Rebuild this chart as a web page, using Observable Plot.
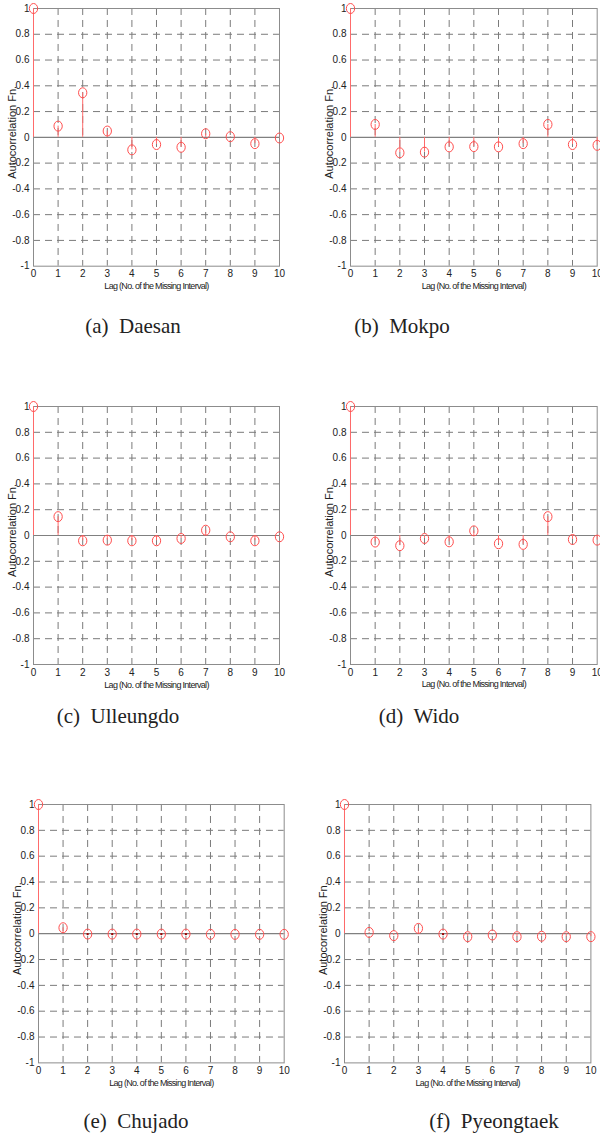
<!DOCTYPE html>
<html>
<head>
<meta charset="utf-8">
<script src="https://cdn.jsdelivr.net/npm/d3@7"></script>
<script src="https://cdn.jsdelivr.net/npm/@observablehq/plot@0.6"></script>
<style>
  html, body { margin: 0; padding: 0; background: #fff; }
  #page { position: relative; width: 600px; height: 1135px; overflow: hidden; background: #fff; }
  .panel { position: absolute; }
  .panel svg { overflow: visible; max-width: none !important; }
  .caption {
    position: absolute; transform: translate(-50%, -50%);
    font-family: "Liberation Serif", "DejaVu Serif", serif; font-size: 21px; color: #222;
    white-space: pre;
  }
</style>
</head>
<body>
<div id="page"></div>
<script>
// ---- data ----
const lags = [0, 1, 2, 3, 4, 5, 6, 7, 8, 9, 10];
const daesan     = [1, 0.087, 0.346, 0.049, -0.097, -0.056, -0.077, 0.028, 0.005, -0.049, -0.005];
const mokpo      = [1, 0.10, -0.12, -0.115, -0.074, -0.072, -0.074, -0.049, 0.10, -0.056, -0.062];
const ulleungdo  = [1, 0.146, -0.041, -0.036, -0.041, -0.041, -0.023, 0.041, -0.010, -0.041, -0.010];
const wido       = [1, -0.051, -0.079, -0.023, -0.049, 0.036, -0.064, -0.069, 0.146, -0.031, -0.036];
const chujado    = [1, 0.046, -0.003, -0.003, -0.003, -0.003, -0.003, -0.005, -0.005, -0.005, -0.005];
const pyeongtaek = [1, 0.010, -0.015, 0.041, -0.003, -0.023, -0.010, -0.023, -0.020, -0.023, -0.023];
const captions = ["(a)  Daesan", "(b)  Mokpo", "(c)  Ulleungdo", "(d)  Wido", "(e)  Chujado", "(f)  Pyeongtaek"];
const xTicks = [0, 1, 2, 3, 4, 5, 6, 7, 8, 9, 10];
const yTicks = [-1, -0.8, -0.6, -0.4, -0.2, 0, 0.2, 0.4, 0.6, 0.8, 1];
const xGrid = [1, 2, 3, 4, 5, 6, 7, 8, 9];
const yGrid = [-0.8, -0.6, -0.4, -0.2, 0.2, 0.4, 0.6, 0.8];
const xLabel = "Lag (No. of the Missing Interval)";
const yLabel = "Autocorrelation Fn.";

// ---- layout (plot-area rectangles) ----
const panels = [
  {values: daesan,     x0: 33,   x1: 279,   y0: 8.3,   y1: 266,    cx: 133, cy: 326},
  {values: mokpo,      x0: 350,  x1: 596.7, y0: 8.3,   y1: 266,    cx: 402, cy: 326},
  {values: ulleungdo,  x0: 33,   x1: 279,   y0: 406,   y1: 664,    cx: 118, cy: 716},
  {values: wido,       x0: 350,  x1: 596.7, y0: 406,   y1: 664,    cx: 419, cy: 716},
  {values: chujado,    x0: 38.3, x1: 284,   y0: 804.3, y1: 1062.7, cx: 136, cy: 1121},
  {values: pyeongtaek, x0: 344.3,x1: 590.7, y0: 804.3, y1: 1062.7, cx: 494, cy: 1121}
];

// elliptical marker (MATLAB circle stretched by image aspect)
const ellipse = {
  draw(context, size) {
    const r = Math.sqrt(size / Math.PI);
    const rx = r * 0.83, ry = r;
    const k = 0.5523;
    context.moveTo(rx, 0);
    context.bezierCurveTo(rx, k * ry, k * rx, ry, 0, ry);
    context.bezierCurveTo(-k * rx, ry, -rx, k * ry, -rx, 0);
    context.bezierCurveTo(-rx, -k * ry, -k * rx, -ry, 0, -ry);
    context.bezierCurveTo(k * rx, -ry, rx, -k * ry, rx, 0);
    context.closePath();
  }
};

const page = document.getElementById("page");
const ML = 45, MR = 20, MT = 12, MB = 40;

panels.forEach((p, i) => {
  const data = lags.map((lag, j) => ({lag, value: p.values[j]}));
  const w = (p.x1 - p.x0) + ML + MR;
  const h = (p.y1 - p.y0) + MT + MB;
  const chart = Plot.plot({
    width: w,
    height: h,
    marginLeft: ML, marginRight: MR, marginTop: MT, marginBottom: MB,
    style: {fontFamily: "'Liberation Sans', Arial, sans-serif", fontSize: "10px", color: "#222", background: "transparent", overflow: "visible", maxWidth: "none"},
    x: {domain: [0, 10], ticks: xTicks, tickSize: 0, tickPadding: 4, tickFormat: d => String(d), label: null},
    y: {domain: [-1, 1], ticks: yTicks, tickSize: 0, tickPadding: 4,
        tickFormat: d => (d === 0 ? "0" : String(+d.toFixed(1))), label: null},
    marks: [
      Plot.ruleX(xGrid, {stroke: "#7a7a7a", strokeWidth: 1, strokeDasharray: "7,5"}),
      Plot.ruleY(yGrid, {stroke: "#7a7a7a", strokeWidth: 1, strokeDasharray: "7,5"}),
      Plot.ruleY([0], {stroke: "#808080", strokeWidth: 1.2}),
      Plot.frame({stroke: "#8c8c8c", strokeWidth: 1}),
      Plot.ruleX(data, {x: "lag", y1: 0, y2: "value", stroke: "#ff6a6a", strokeWidth: 1}),
      Plot.dot(data, {x: "lag", y: "value", r: 5, symbol: ellipse, stroke: "#ff4d4d", strokeWidth: 1, fill: "none"}),
      Plot.dot(data.filter(d => d.lag > 0 && Math.abs(d.value) < 0.004), {x: "lag", y: "value", r: 1.2, fill: "#a00000", stroke: "none"}),
      Plot.text([xLabel], {frameAnchor: "bottom", textAnchor: "middle", dy: 23, fontSize: 9, fill: "#222"}),
      Plot.text([yLabel], {frameAnchor: "left", textAnchor: "middle", rotate: -90, dx: -21, dy: -5, fontSize: 11, fill: "#222"})
    ]
  });
  chart.querySelectorAll("text").forEach(t => {
    if (t.textContent === xLabel) t.setAttribute("letter-spacing", "-0.7");
  });
  const div = document.createElement("div");
  div.className = "panel";
  div.style.left = (p.x0 - ML) + "px";
  div.style.top = (p.y0 - MT) + "px";
  div.style.width = w + "px";
  div.style.height = h + "px";
  div.appendChild(chart);
  page.appendChild(div);

  const cap = document.createElement("div");
  cap.className = "caption";
  cap.style.left = p.cx + "px";
  cap.style.top = p.cy + "px";
  cap.textContent = captions[i];
  page.appendChild(cap);
});
</script>
</body>
</html>
